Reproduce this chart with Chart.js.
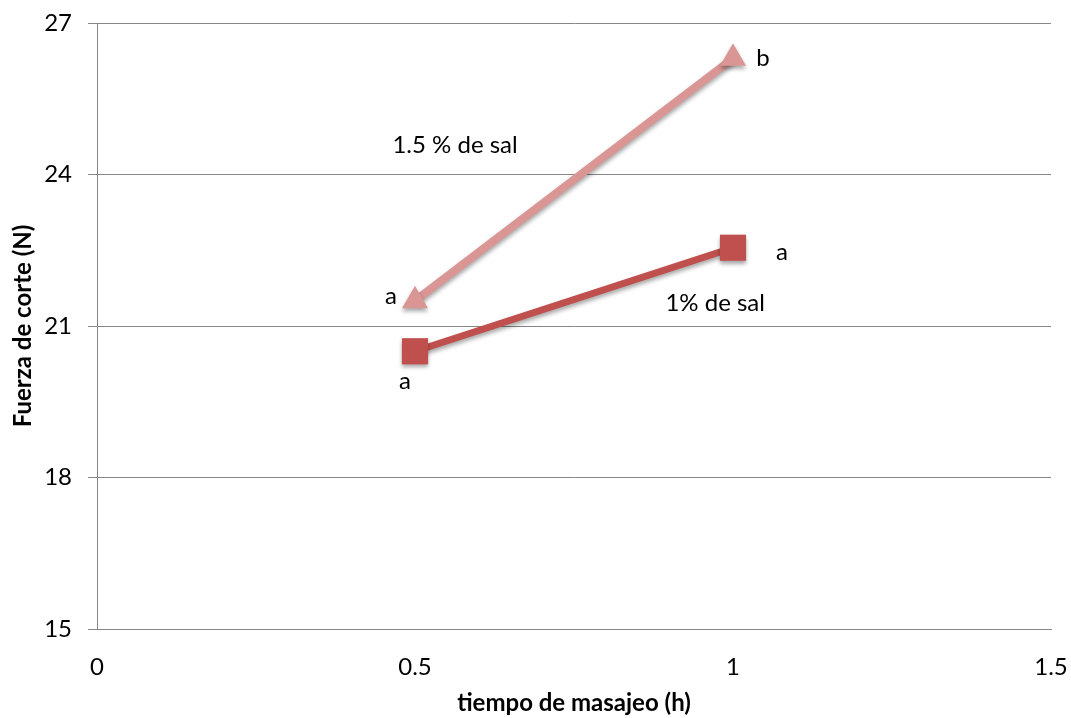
<!DOCTYPE html>
<html>
<head>
<meta charset="utf-8">
<script src="https://cdn.jsdelivr.net/npm/chart.js@4"></script>
<style>
  html, body { margin: 0; padding: 0; background: #ffffff; }
  #wrap { width: 1071px; height: 718px; }
</style>
</head>
<body>
<div id="wrap"><canvas id="c" width="1071" height="718"></canvas></div>
<script>
// Massaging time (h) and shear force (N) for two salt levels
const tiempos = [0.5, 1];
const fuerzaSal1 = [20.5, 22.55];
const fuerzaSal15 = [21.5, 26.3];
const letrasSal1 = ['a', 'a'];
const letrasSal15 = ['a', 'b'];
const nombreSal1 = '1% de sal';
const nombreSal15 = '1.5 % de sal';
const yTicks = [15, 18, 21, 24, 27];
const xTicks = [0, 0.5, 1, 1.5];

const FONT = 'Lato, "Open Sans", sans-serif';

// Soft drop shadow under each series, like the office-style line markers
const shadowPlugin = {
  id: 'shadow',
  beforeDatasetDraw(chart) {
    const ctx = chart.ctx;
    ctx.save();
    ctx.shadowColor = 'rgba(0,0,0,0.35)';
    ctx.shadowBlur = 4;
    ctx.shadowOffsetX = 0;
    ctx.shadowOffsetY = 3;
  },
  afterDatasetDraw(chart) {
    chart.ctx.restore();
  }
};

// Significance letters beside each point and series names inside the plot
const labelPlugin = {
  id: 'labels',
  afterDatasetsDraw(chart, args, opts) {
    const ctx = chart.ctx;
    const xs = chart.scales.x, ys = chart.scales.y;
    ctx.save();
    ctx.fillStyle = '#000';
    ctx.font = '24px ' + FONT;
    ctx.textAlign = 'center';
    ctx.textBaseline = 'middle';
    opts.letters.forEach(set => {
      const ds = chart.data.datasets[set.dataset];
      ds.data.forEach((p, i) => {
        const off = set.offsets[i];
        ctx.fillText(set.text[i], xs.getPixelForValue(p.x) + off[0], ys.getPixelForValue(p.y) + off[1]);
      });
    });
    opts.names.forEach(n => {
      ctx.fillText(n.text, xs.getPixelForValue(n.x), ys.getPixelForValue(n.y));
    });
    ctx.restore();
  }
};

const pts = (vals) => tiempos.map((t, i) => ({ x: t, y: vals[i] }));

new Chart(document.getElementById('c'), {
  type: 'scatter',
  data: {
    datasets: [
      {
        label: nombreSal1,
        data: pts(fuerzaSal1),
        showLine: true,
        borderColor: '#C0504D',
        backgroundColor: '#C0504D',
        borderWidth: 7,
        pointStyle: 'rect',
        pointRadius: 18.5,
        pointHoverRadius: 18.5,
        pointBorderWidth: 0
      },
      {
        label: nombreSal15,
        data: pts(fuerzaSal15),
        showLine: true,
        borderColor: '#D99694',
        backgroundColor: '#D99694',
        borderWidth: 8,
        pointStyle: 'triangle',
        pointRadius: 15,
        pointHoverRadius: 15,
        pointBorderWidth: 0
      }
    ]
  },
  options: {
    responsive: false,
    animation: false,
    events: [],
    layout: { padding: { top: 23, right: 20, left: 0, bottom: 0 } },
    plugins: {
      legend: { display: false },
      tooltip: { enabled: false },
      labels: {
        letters: [
          { dataset: 0, text: letrasSal1, offsets: [[-10, 30], [49, 5]] },
          { dataset: 1, text: letrasSal15, offsets: [[-24, -4], [30, 0]] }
        ],
        names: [
          { text: nombreSal15, x: 0.563, y: 24.58 },
          { text: nombreSal1, x: 0.972, y: 21.46 }
        ]
      }
    },
    scales: {
      x: {
        type: 'linear',
        min: 0,
        max: 1.5,
        afterBuildTicks: (s) => { s.ticks = xTicks.map(v => ({ value: v })); },
        afterFit: (s) => { s.height = 89; s.paddingLeft = 0; s.paddingRight = 0; },
        grid: { display: false, drawTicks: false },
        border: { display: true, color: '#868686', width: 1 },
        ticks: {
          padding: 24,
          color: '#000',
          font: { family: FONT, size: 24 },
          maxRotation: 0,
          callback: (v) => String(v)
        },
        title: {
          display: true,
          text: 'tiempo de masajeo (h)',
          color: '#000',
          font: { family: FONT, size: 24, weight: 'bold' },
          padding: { top: 0, bottom: 0 }
        }
      },
      y: {
        type: 'linear',
        min: 15,
        max: 27,
        afterBuildTicks: (s) => { s.ticks = yTicks.map(v => ({ value: v })); },
        afterFit: (s) => { s.width = 97; s.paddingTop = 0; s.paddingBottom = 0; },
        grid: { color: '#868686', lineWidth: 1, drawTicks: true, tickLength: 9 },
        border: { display: true, color: '#868686', width: 1 },
        ticks: {
          padding: 16,
          color: '#000',
          font: { family: FONT, size: 24 },
          callback: (v) => String(v)
        },
        title: {
          display: true,
          text: 'Fuerza de corte (N)',
          color: '#000',
          font: { family: FONT, size: 24, weight: 'bold' },
          padding: { top: 9, bottom: 0 }
        }
      }
    }
  },
  plugins: [shadowPlugin, labelPlugin]
});
</script>
</body>
</html>
